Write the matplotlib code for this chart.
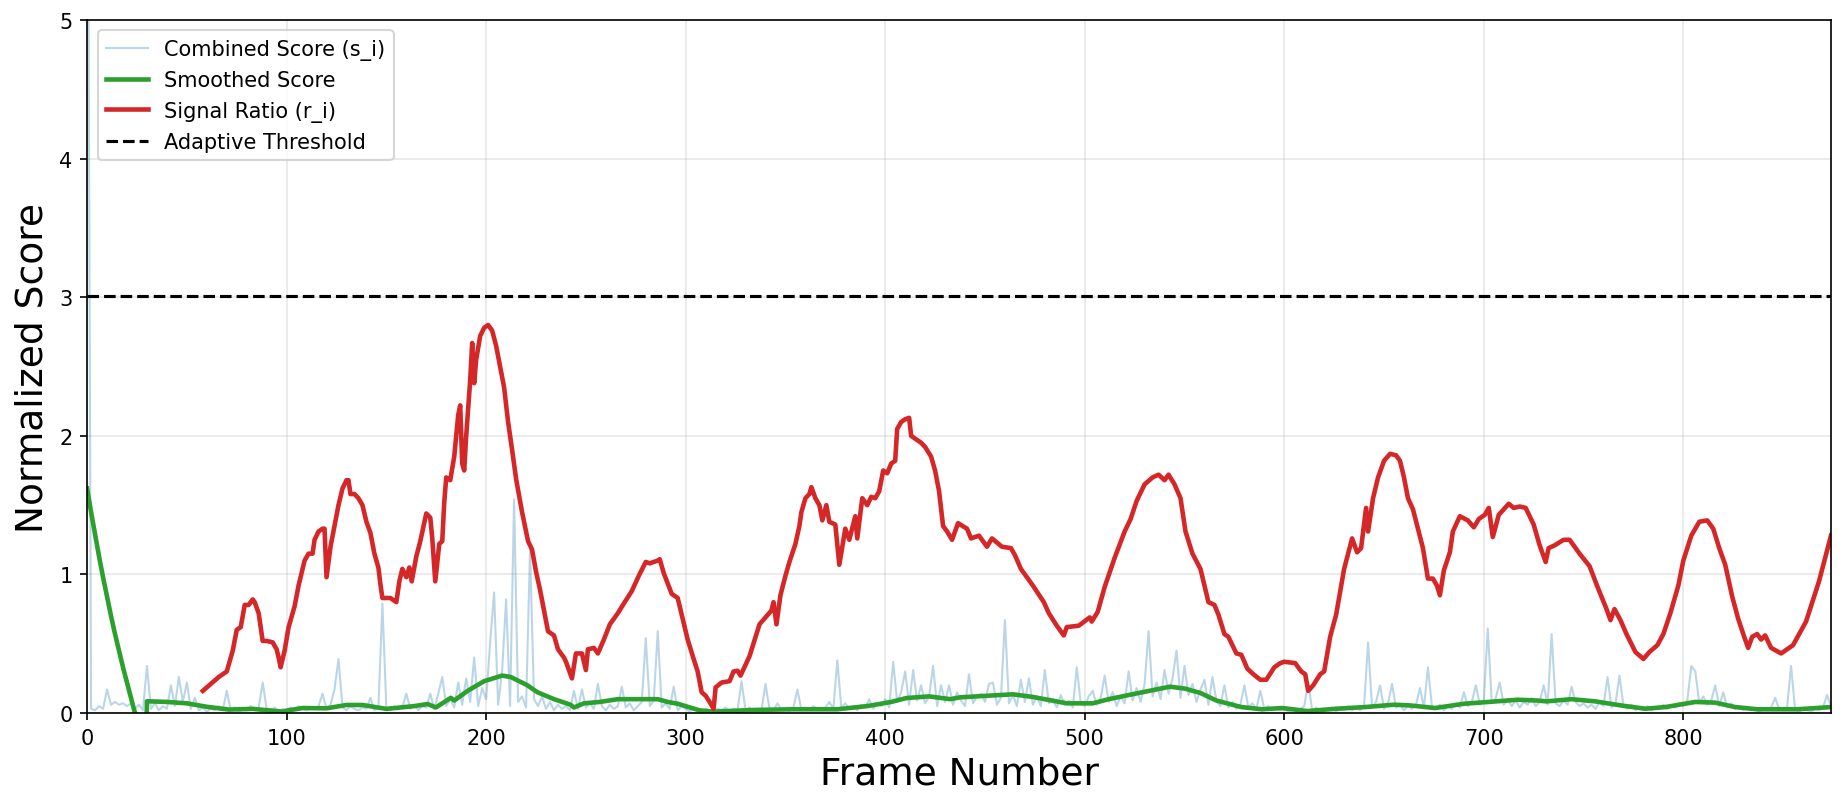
import numpy as np
import matplotlib.pyplot as plt

# combined score s_i, one value every 2 frames (0, 2, ..., 874)
score_step = 2
combined_score = [
    8.0, 0.03, 0.02, 0.05, 0.03, 0.17, 0.06, 0.08, 0.06, 0.07, 0.05, 0.07, 0.03, 0.06, 0.02, 0.34, 0.03, 0.07, 0.02, 0.05, 0.03, 0.20, 0.05, 0.26, 0.08,
    0.22, 0.03, 0.11, 0.02, 0.04, 0.01, 0.03, 0.02, 0.05, 0.02, 0.16, 0.02, 0.04, 0.01, 0.03, 0.02, 0.05, 0.02, 0.04, 0.22, 0.03, 0.02, 0.04, 0.01, 0.03,
    0.02, 0.04, 0.02, 0.05, 0.03, 0.02, 0.04, 0.03, 0.05, 0.14, 0.03, 0.06, 0.17, 0.39, 0.04, 0.02, 0.05, 0.03, 0.02, 0.04, 0.03, 0.11, 0.02, 0.04, 0.79,
    0.03, 0.02, 0.05, 0.03, 0.04, 0.14, 0.03, 0.06, 0.02, 0.05, 0.04, 0.14, 0.03, 0.14, 0.26, 0.05, 0.10, 0.04, 0.22, 0.06, 0.25, 0.08, 0.40, 0.05, 0.18,
    0.10, 0.51, 0.87, 0.06, 0.30, 0.82, 0.05, 1.54, 0.08, 0.12, 0.04, 1.18, 0.10, 0.05, 0.12, 0.03, 0.08, 0.02, 0.06, 0.03, 0.05, 0.02, 0.16, 0.03, 0.17,
    0.04, 0.07, 0.03, 0.21, 0.05, 0.02, 0.06, 0.03, 0.05, 0.19, 0.04, 0.07, 0.02, 0.05, 0.08, 0.54, 0.05, 0.09, 0.59, 0.04, 0.07, 0.03, 0.19, 0.02, 0.05,
    0.03, 0.01, 0.04, 0.02, 0.01, 0.03, 0.02, 0.01, 0.03, 0.02, 0.04, 0.01, 0.03, 0.02, 0.23, 0.02, 0.04, 0.01, 0.03, 0.02, 0.21, 0.03, 0.02, 0.07, 0.02,
    0.03, 0.01, 0.04, 0.17, 0.02, 0.04, 0.02, 0.05, 0.03, 0.02, 0.04, 0.08, 0.03, 0.38, 0.04, 0.07, 0.03, 0.05, 0.02, 0.06, 0.04, 0.10, 0.03, 0.07, 0.05,
    0.10, 0.04, 0.37, 0.08, 0.15, 0.30, 0.06, 0.31, 0.09, 0.20, 0.07, 0.12, 0.34, 0.05, 0.20, 0.08, 0.20, 0.06, 0.15, 0.09, 0.05, 0.28, 0.07, 0.12, 0.14,
    0.08, 0.21, 0.22, 0.06, 0.11, 0.67, 0.07, 0.13, 0.05, 0.24, 0.08, 0.25, 0.06, 0.12, 0.05, 0.31, 0.07, 0.10, 0.04, 0.13, 0.06, 0.09, 0.04, 0.33, 0.07,
    0.05, 0.12, 0.16, 0.06, 0.11, 0.27, 0.08, 0.15, 0.05, 0.12, 0.07, 0.30, 0.09, 0.18, 0.08, 0.21, 0.59, 0.12, 0.22, 0.10, 0.31, 0.14, 0.25, 0.45, 0.11,
    0.34, 0.13, 0.21, 0.08, 0.17, 0.24, 0.06, 0.26, 0.09, 0.05, 0.20, 0.04, 0.08, 0.03, 0.06, 0.20, 0.04, 0.07, 0.03, 0.16, 0.03, 0.05, 0.02, 0.04, 0.02,
    0.03, 0.01, 0.02, 0.01, 0.03, 0.05, 0.22, 0.02, 0.04, 0.01, 0.03, 0.02, 0.04, 0.01, 0.03, 0.02, 0.05, 0.02, 0.04, 0.02, 0.05, 0.51, 0.04, 0.08, 0.20,
    0.03, 0.07, 0.21, 0.04, 0.06, 0.02, 0.05, 0.03, 0.06, 0.18, 0.04, 0.33, 0.05, 0.03, 0.06, 0.02, 0.05, 0.03, 0.07, 0.04, 0.15, 0.05, 0.08, 0.20, 0.06,
    0.09, 0.61, 0.07, 0.11, 0.22, 0.06, 0.10, 0.05, 0.09, 0.04, 0.08, 0.06, 0.11, 0.05, 0.08, 0.20, 0.06, 0.57, 0.07, 0.05, 0.09, 0.06, 0.19, 0.08, 0.05,
    0.07, 0.04, 0.06, 0.03, 0.08, 0.05, 0.26, 0.04, 0.07, 0.27, 0.05, 0.03, 0.06, 0.02, 0.04, 0.02, 0.05, 0.02, 0.04, 0.03, 0.06, 0.03, 0.05, 0.04, 0.07,
    0.05, 0.09, 0.34, 0.30, 0.07, 0.12, 0.06, 0.09, 0.20, 0.05, 0.15, 0.04, 0.07, 0.03, 0.05, 0.02, 0.04, 0.02, 0.03, 0.01, 0.03, 0.02, 0.04, 0.11, 0.03,
    0.02, 0.04, 0.34, 0.03, 0.01, 0.03, 0.02, 0.01, 0.03, 0.02, 0.04, 0.13, 0.05,
]

# smoothed score (frame, value)
smooth_frames = [0, 2, 4, 6, 8, 10, 12, 14, 16, 18, 20, 22, 24, 26, 28, 29.5, 30, 40, 50, 60, 71, 83, 98, 100,
                 108, 120, 130, 138, 150, 164, 170.7, 174.8, 182.3, 184, 190.7, 199, 208, 212.3, 220.7, 225.7,
                 234, 242.3, 244, 249, 257, 266, 277, 286, 291, 296, 301, 307, 314, 334, 353, 376, 391, 403,
                 410.6, 422, 432.6, 437.4, 449, 464, 474, 491, 504, 512, 525.5, 542.7, 550.3, 557.9, 566,
                 578.5, 588.8, 599, 611.6, 626, 640.5, 655, 663, 675.6, 690, 702.5, 717, 727, 731.4, 743.8,
                 756, 768.6, 781, 791, 806, 816, 826, 837, 857, 874]
smooth_values = [1.62, 1.45, 1.29, 1.13, 0.98, 0.84, 0.70, 0.57, 0.45, 0.33, 0.22, 0.11, 0.0, -0.1, -0.2, -0.26, 0.085,
                 0.08, 0.07, 0.045, 0.025, 0.03, 0.01, 0.017, 0.036, 0.034, 0.058, 0.058, 0.03, 0.05, 0.065, 0.04,
                 0.11, 0.09, 0.16, 0.23, 0.27, 0.26, 0.20, 0.15, 0.10, 0.06, 0.04, 0.07, 0.08, 0.10, 0.10, 0.10,
                 0.08, 0.067, 0.045, 0.019, 0.01, 0.022, 0.027, 0.027, 0.05, 0.08, 0.108, 0.12, 0.10, 0.113,
                 0.123, 0.135, 0.116, 0.07, 0.07, 0.10, 0.14, 0.19, 0.176, 0.145, 0.09, 0.043, 0.027, 0.036,
                 0.014, 0.031, 0.043, 0.06, 0.055, 0.036, 0.067, 0.08, 0.096, 0.09, 0.084, 0.10, 0.084, 0.055,
                 0.031, 0.043, 0.08, 0.075, 0.043, 0.027, 0.027, 0.043]

# signal ratio r_i (frame, value)
ratio_frames = [58, 62, 66, 70, 72, 73, 75, 77, 79, 81, 83, 84, 86, 87, 88, 90, 93, 95, 96, 97, 99, 101, 104, 106,
                109, 111, 113, 114, 116, 118, 119, 120, 122, 124, 126, 128, 130, 131, 132, 134, 136, 138, 140,
                142, 144, 146, 147, 148, 152, 155, 156.5, 158, 160, 161.5, 162.7, 165, 167, 170, 172, 173,
                174.5, 176.5, 178, 179, 180, 182, 184, 186, 187, 188, 189, 190, 192, 193, 194, 195, 197, 199,
                201, 203, 205, 207, 209, 211, 213, 215, 218, 221, 223, 225, 227, 229, 231, 234, 236, 239, 240,
                243, 245, 248, 250, 251, 254, 256, 259, 262, 266, 269, 273, 276.5, 280, 282, 284, 286, 287,
                289, 293, 296, 299, 301, 304, 306, 308, 310, 312, 314, 315, 318, 322, 324, 326, 327.5, 332,
                337, 340, 343, 344, 345.5, 347.5, 350, 352, 355, 357, 358, 360, 362, 363, 365, 367, 368.5,
                370.5, 372, 375, 377, 380, 382, 385, 386, 388.5, 391, 393, 395, 397, 399, 401, 403, 405, 406,
                408, 410, 412, 413, 415, 418, 420, 423, 425, 427, 429, 431, 433.5, 436.5, 441, 443, 447, 451,
                453.5, 458.5, 463, 465, 468, 474, 479.5, 482, 486, 489.5, 491, 497, 502.5, 503.5, 506.5, 510,
                515, 520, 523, 526, 530, 534, 537, 540, 542, 545, 548, 550.5, 554, 558, 562, 565, 567, 570,
                572, 576, 578.5, 581.5, 584.5, 588, 591, 595, 598, 600, 605.5, 608.5, 610.5, 612, 614.5, 618,
                620, 623, 626, 630, 634, 636.5, 638.5, 641, 642, 644.5, 647, 650, 653, 656, 658, 660, 662,
                664.5, 669.5, 672, 674.5, 676.5, 678, 680, 683, 684.5, 688, 692, 695, 697.5, 700.5, 702.5,
                704.5, 707.5, 712.5, 715, 718, 721, 725, 728, 731, 732.5, 735.5, 740, 743, 748, 753, 757,
                761.5, 763.5, 765.5, 768.5, 771.5, 776, 780, 783, 787, 790, 793.5, 797.5, 800, 804, 808, 812,
                815, 818, 821, 824.5, 827.5, 830.5, 832.5, 834.5, 837, 839, 841, 844, 849, 855, 861.5, 868, 874]
ratio_values = [0.16, 0.21, 0.26, 0.30, 0.40, 0.45, 0.60, 0.62, 0.78, 0.78, 0.82, 0.80, 0.72, 0.62, 0.52, 0.52,
                0.51, 0.46, 0.40, 0.33, 0.45, 0.62, 0.77, 0.92, 1.10, 1.15, 1.15, 1.25, 1.31, 1.33, 1.33, 0.98,
                1.20, 1.35, 1.50, 1.62, 1.68, 1.68, 1.58, 1.58, 1.55, 1.50, 1.38, 1.30, 1.15, 1.05, 0.93, 0.83,
                0.83, 0.80, 0.95, 1.04, 0.98, 1.05, 0.95, 1.13, 1.24, 1.44, 1.41, 1.26, 0.95, 1.22, 1.24, 1.52,
                1.70, 1.68, 1.85, 2.15, 2.22, 1.80, 1.75, 2.00, 2.40, 2.67, 2.38, 2.55, 2.72, 2.78, 2.80, 2.76,
                2.65, 2.50, 2.35, 2.10, 1.90, 1.69, 1.45, 1.24, 1.18, 1.02, 0.89, 0.74, 0.59, 0.56, 0.46, 0.40,
                0.37, 0.25, 0.43, 0.43, 0.31, 0.46, 0.47, 0.43, 0.53, 0.64, 0.72, 0.79, 0.88, 0.99, 1.09, 1.08,
                1.09, 1.10, 1.11, 1.01, 0.86, 0.83, 0.65, 0.53, 0.39, 0.30, 0.15, 0.125, 0.08, 0.03, 0.185, 0.22,
                0.23, 0.30, 0.305, 0.27, 0.41, 0.64, 0.69, 0.74, 0.80, 0.64, 0.85, 0.99, 1.09, 1.22, 1.35, 1.45,
                1.55, 1.58, 1.63, 1.55, 1.50, 1.39, 1.50, 1.38, 1.36, 1.07, 1.33, 1.25, 1.42, 1.26, 1.55, 1.50,
                1.56, 1.55, 1.60, 1.75, 1.73, 1.80, 1.82, 2.05, 2.10, 2.12, 2.13, 2.00, 1.98, 1.95, 1.92, 1.85,
                1.75, 1.60, 1.35, 1.31, 1.25, 1.37, 1.33, 1.26, 1.28, 1.20, 1.26, 1.20, 1.19, 1.14, 1.04, 0.92,
                0.80, 0.72, 0.63, 0.56, 0.62, 0.63, 0.69, 0.66, 0.73, 0.91, 1.12, 1.31, 1.40, 1.53, 1.65, 1.70,
                1.72, 1.68, 1.72, 1.65, 1.55, 1.31, 1.15, 1.04, 0.80, 0.78, 0.71, 0.57, 0.55, 0.43, 0.42, 0.32,
                0.28, 0.24, 0.24, 0.33, 0.36, 0.37, 0.36, 0.30, 0.28, 0.16, 0.20, 0.28, 0.30, 0.55, 0.71, 1.04,
                1.26, 1.16, 1.19, 1.48, 1.31, 1.55, 1.70, 1.82, 1.87, 1.86, 1.82, 1.70, 1.55, 1.47, 1.19, 0.97,
                0.97, 0.92, 0.85, 1.03, 1.16, 1.31, 1.42, 1.39, 1.34, 1.40, 1.43, 1.48, 1.27, 1.43, 1.51, 1.48,
                1.49, 1.48, 1.36, 1.21, 1.09, 1.19, 1.21, 1.25, 1.25, 1.15, 1.06, 0.91, 0.75, 0.67, 0.75, 0.67,
                0.57, 0.44, 0.39, 0.44, 0.49, 0.57, 0.72, 0.92, 1.10, 1.28, 1.38, 1.39, 1.33, 1.19, 1.07, 0.84,
                0.68, 0.55, 0.47, 0.55, 0.57, 0.53, 0.56, 0.47, 0.43, 0.49, 0.66, 0.95, 1.28]

threshold = 3.01
n_frames = 875

score_frames = np.arange(len(combined_score)) * score_step

fig = plt.figure(figsize=(12.3, 5.393), dpi=150)
ax = fig.add_axes([0.0472, 0.1174, 0.9452, 0.8566])

ax.plot(score_frames, combined_score, color='tab:blue', alpha=0.3, linewidth=1, label='Combined Score (s_i)')
ax.plot(smooth_frames, smooth_values, color='tab:green', linewidth=2.2, label='Smoothed Score')
ax.plot(ratio_frames, ratio_values, color='tab:red', linewidth=2.2, label='Signal Ratio (r_i)')
ax.axhline(threshold, color='black', linestyle='--', linewidth=1.5, label='Adaptive Threshold')

ax.set_xlim(0, n_frames - 1)
ax.set_ylim(0, 5)
ax.set_xlabel('Frame Number', fontsize=18)
ax.set_ylabel('Normalized Score', fontsize=18)
ax.tick_params(labelsize=10)
ax.grid(True, alpha=0.3)
ax.legend(loc='upper left', fontsize=10)

fig.savefig('out.png', dpi=150)
